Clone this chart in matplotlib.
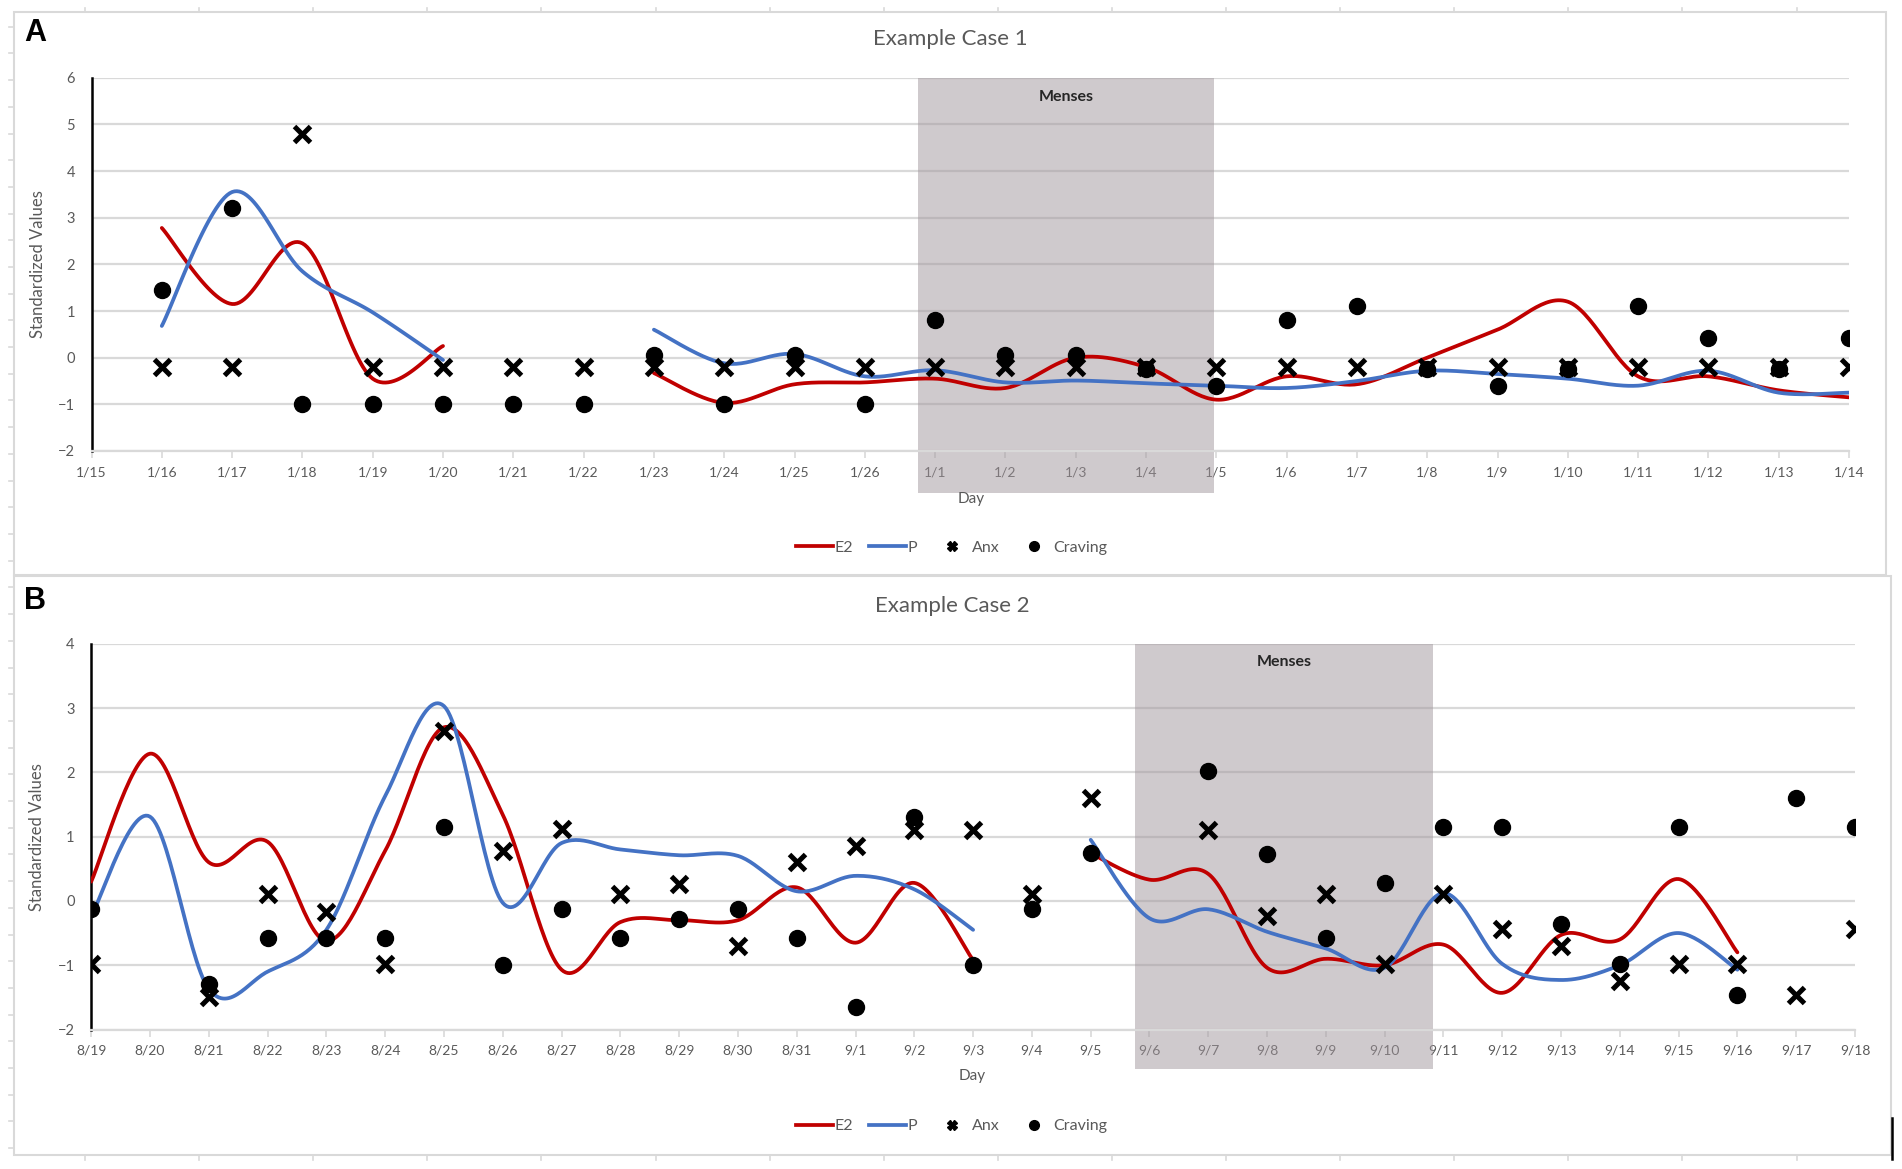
import numpy as np
import matplotlib
matplotlib.use("Agg")
import matplotlib.pyplot as plt
from matplotlib.lines import Line2D
from matplotlib.patches import Rectangle

nan = np.nan

# ---- Example Case 1 ----
days_a = ['1/15', '1/16', '1/17', '1/18', '1/19', '1/20', '1/21', '1/22', '1/23',
          '1/24', '1/25', '1/26', '1/1', '1/2', '1/3', '1/4', '1/5', '1/6', '1/7',
          '1/8', '1/9', '1/10', '1/11', '1/12', '1/13', '1/14']
e2_a = [nan, 2.78, 1.15, 2.45, -0.45, 0.25, nan, nan, -0.33, -0.97, -0.57, -0.53, -0.45,
        -0.65, 0.0, -0.2, -0.9, -0.4, -0.57, 0.0, 0.6, 1.2, -0.4, -0.4, -0.7, -0.85]
p_a = [nan, 0.68, 3.55, 1.85, 0.97, -0.05, nan, nan, 0.6, -0.12, 0.08, -0.4, -0.27,
       -0.53, -0.49, -0.55, -0.6, -0.65, -0.5, -0.28, -0.35, -0.45, -0.6, -0.28, -0.75, -0.75]
anx_a = [nan, -0.2, -0.2, 4.8, -0.2, -0.2, -0.2, -0.2, -0.2, -0.2, -0.2, -0.2, -0.2,
         -0.2, -0.2, -0.2, -0.2, -0.2, -0.2, -0.2, -0.2, -0.2, -0.2, -0.2, -0.2, -0.2]
craving_a = [nan, 1.45, 3.2, -1, -1, -1, -1, -1, 0.05, -1, 0.05, -1, 0.8, 0.05, 0.05,
             -0.25, -0.6, 0.8, 1.1, -0.25, -0.6, -0.25, 1.1, 0.43, -0.25, 0.43]
menses_a = (11.76, 15.97)

# ---- Example Case 2 ----
days_b = ['8/19', '8/20', '8/21', '8/22', '8/23', '8/24', '8/25', '8/26', '8/27', '8/28',
          '8/29', '8/30', '8/31', '9/1', '9/2', '9/3', '9/4', '9/5', '9/6', '9/7', '9/8',
          '9/9', '9/10', '9/11', '9/12', '9/13', '9/14', '9/15', '9/16', '9/17', '9/18']
e2_b = [0.3, 2.29, 0.6, 0.92, -0.62, 0.78, 2.7, 1.34, -1.07, -0.33, -0.3, -0.3, 0.21,
        -0.65, 0.28, -0.92, nan, 0.74, 0.33, 0.42, -1.04, -0.9, -1.0, -0.68, -1.43,
        -0.53, -0.6, 0.34, -0.8, nan, nan]
p_b = [-0.24, 1.31, -1.37, -1.1, -0.45, 1.63, 3.03, -0.03, 0.9, 0.8, 0.71, 0.7, 0.15,
       0.39, 0.18, -0.45, nan, 0.95, -0.27, -0.13, -0.48, -0.74, -1.04, 0.12, -0.98,
       -1.23, -1.0, -0.5, -1.07, nan, nan]
anx_b = [-0.98, nan, -1.49, 0.1, -0.17, -0.98, 2.64, 0.77, 1.12, 0.1, 0.26, -0.7, 0.6,
         0.85, 1.1, 1.11, 0.1, 1.6, nan, 1.11, -0.24, 0.1, -0.98, 0.1, -0.43, -0.7,
         -1.25, -0.98, -0.98, -1.46, -0.43]
craving_b = [-0.13, nan, -1.3, -0.58, -0.58, -0.58, 1.15, -1.0, -0.13, -0.58, -0.28,
             -0.12, -0.58, -1.65, 1.3, -1.0, -0.12, 0.74, nan, 2.02, 0.73, -0.58, 0.28,
             1.15, 1.15, -0.36, -0.98, 1.15, -1.46, 1.6, 1.15]
menses_b = (17.75, 22.82)

RED = '#C00000'
BLUE = '#4472C4'
GRID = '#D9D9D9'
TXT = '#595959'
plt.rcParams['font.family'] = ['Lato', 'DejaVu Sans']


def smooth_line(ax, vals, color):
    # excel-like smoothed line: bezier through the points, broken at gaps
    y = np.array(vals, dtype=float)
    x = np.arange(len(y), dtype=float)
    runs = []
    cur = []
    for i in range(len(y)):
        if not np.isnan(y[i]):
            cur.append(i)
        elif cur:
            runs.append(cur)
            cur = []
    if cur:
        runs.append(cur)
    t = np.linspace(0, 1, 30)
    for r in runs:
        px, py = x[r], y[r]
        n = len(r)
        xs, ys = [], []
        for i in range(n - 1):
            i0 = max(i - 1, 0)
            i3 = min(i + 2, n - 1)
            c1x = px[i] + (px[i + 1] - px[i0]) / 6
            c1y = py[i] + (py[i + 1] - py[i0]) / 6
            c2x = px[i + 1] - (px[i3] - px[i]) / 6
            c2y = py[i + 1] - (py[i3] - py[i]) / 6
            b0, b1, b2, b3 = (1 - t) ** 3, 3 * (1 - t) ** 2 * t, 3 * (1 - t) * t ** 2, t ** 3
            xs.extend(b0 * px[i] + b1 * c1x + b2 * c2x + b3 * px[i + 1])
            ys.extend(b0 * py[i] + b1 * c1y + b2 * c2y + b3 * py[i + 1])
        ax.plot(xs, ys, color=color, lw=2.7, solid_capstyle='round', zorder=3)


def draw_panel(ax, days, e2, p, anx, craving, menses, ylo, yhi, shade_bottom, menses_y):
    x = np.arange(len(days))
    ax.set_xlim(0, len(days) - 1)
    ax.set_ylim(ylo, yhi)
    ax.set_yticks(range(ylo, yhi + 1))
    ax.set_xticks(x)
    ax.set_xticklabels(days)
    ax.yaxis.grid(True, color=GRID, lw=1.6, zorder=0)
    ax.set_axisbelow(True)
    for s in ['top', 'right']:
        ax.spines[s].set_visible(False)
    ax.spines['bottom'].set_color(GRID)
    ax.spines['bottom'].set_linewidth(1.6)
    ax.spines['left'].set_color('black')
    ax.spines['left'].set_linewidth(1.8)
    ax.tick_params(axis='y', length=0, pad=12, labelsize=10.5, labelcolor=TXT)
    ax.tick_params(axis='x', length=5, width=1.2, color=GRID, pad=6, labelsize=10, labelcolor=TXT)
    ax.add_patch(Rectangle((menses[0], shade_bottom), menses[1] - menses[0], yhi - shade_bottom,
                           facecolor=(0.63, 0.59, 0.61), alpha=0.5, lw=0, clip_on=False, zorder=1))
    ax.text((menses[0] + menses[1]) / 2, menses_y, 'Menses', ha='center', va='center',
            fontsize=11.5, fontweight='bold', color='#262626', zorder=5)
    smooth_line(ax, e2, RED)
    smooth_line(ax, p, BLUE)
    ax.plot(x, anx, 'x', color='black', ms=12, mew=3.6, ls='none', zorder=4)
    ax.plot(x, craving, 'o', color='black', ms=11.5, ls='none', zorder=4)
    ax.set_ylabel('Standardized Values', fontsize=12, color=TXT)
    ax.yaxis.set_label_coords(-0.026, 0.5)


W, H = 1902, 1169
fig = plt.figure(figsize=(W / 100, H / 100), dpi=100)

def fx(px):
    return px / W

def fy(py):
    return 1 - py / H

# chart-area frames
for (x0, y0, x1, y1) in [(14, 12, 1886, 575), (14, 576, 1890.5, 1155)]:
    fig.patches.append(Rectangle((fx(x0), fy(y1)), fx(x1) - fx(x0), fy(y0) - fy(y1),
                                 transform=fig.transFigure, fill=False, edgecolor=GRID, lw=1.5))
# faint ruler ticks around the canvas
for k in range(1, 44):
    fig.add_artist(Line2D([fx(9), fx(14)], [fy(26.7 * k)] * 2, color=GRID, lw=1.2))
for k in range(16):
    xx = 85 + 114.1 * k
    fig.add_artist(Line2D([fx(xx)] * 2, [fy(8), fy(12)], color=GRID, lw=1.2))
    fig.add_artist(Line2D([fx(xx)] * 2, [fy(1155), fy(1160)], color=GRID, lw=1.2))

ax_a = fig.add_axes([fx(91.5), fy(451), fx(1849) - fx(91.5), fy(77.7) - fy(451)])
draw_panel(ax_a, days_a, e2_a, p_a, anx_a, craving_a, menses_a, -2, 6, -2.9, 5.59)
ax_b = fig.add_axes([fx(91.2), fy(1029.5), fx(1855) - fx(91.2), fy(643.7) - fy(1029.5)])
draw_panel(ax_b, days_b, e2_b, p_b, anx_b, craving_b, menses_b, -2, 4, -2.61, 3.72)

fig.text(fx(950), fy(39), 'Example Case 1', ha='center', va='center', fontsize=16, color=TXT)
fig.text(fx(952), fy(606), 'Example Case 2', ha='center', va='center', fontsize=16, color=TXT)
fig.text(fx(971), fy(499), 'Day', ha='center', va='center', fontsize=11, color=TXT)
fig.text(fx(972), fy(1076), 'Day', ha='center', va='center', fontsize=11, color=TXT)
fig.text(fx(24), fy(33), 'A', ha='left', va='center', fontsize=22, fontweight='bold',
         family='Liberation Sans')
fig.text(fx(24), fy(601), 'B', ha='left', va='center', fontsize=22, fontweight='bold',
         family='Liberation Sans')

handles = [Line2D([], [], color=RED, lw=2.7),
           Line2D([], [], color=BLUE, lw=2.7),
           Line2D([], [], marker='X', color='black', ms=7, ls='none'),
           Line2D([], [], marker='o', color='black', ms=7, ls='none')]
labels = ['E2', 'P', 'Anx', 'Craving']
for ly in (547.5, 1126):
    fig.legend(handles, labels, loc='center', bbox_to_anchor=(fx(952), fy(ly)), ncol=4,
               frameon=False, fontsize=11.5, handlelength=2.3, handletextpad=0.1,
               columnspacing=1.0, labelcolor=TXT)

# small dark mark at the right edge of the lower frame
fig.add_artist(Line2D([fx(1891.7), fx(1891.7)], [fy(1118), fy(1159)], color='black', lw=1.8))

fig.savefig('out.png', dpi=100)
